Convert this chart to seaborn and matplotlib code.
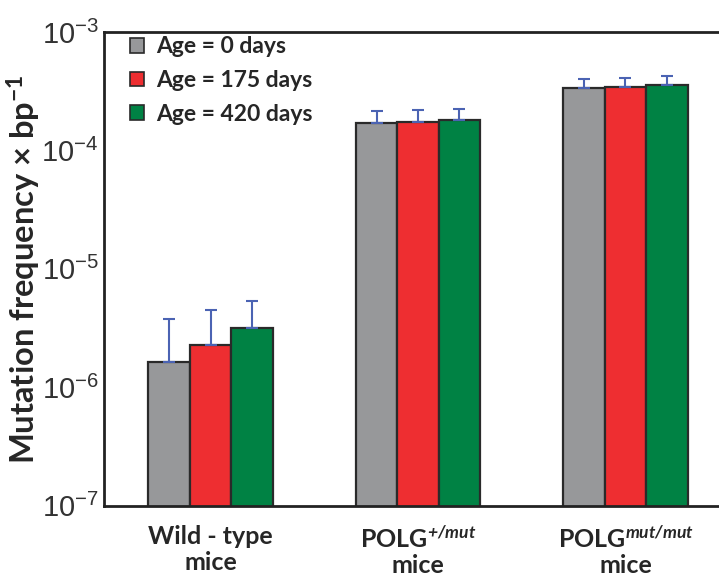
import matplotlib
matplotlib.use("Agg")
import matplotlib.pyplot as plt
import matplotlib.ticker as mticker
import seaborn as sns
import pandas as pd
import numpy as np

# ---- data ----
groups = ["Wild - type\nmice", "POLG$^{\\mathbfit{+/mut}}$\nmice", "POLG$^{\\mathbfit{mut/mut}}$\nmice"]
ages = ["Age = 0 days", "Age = 175 days", "Age = 420 days"]
age0 = [1.64e-6, 1.71e-4, 3.36e-4]
age175 = [2.29e-6, 1.76e-4, 3.47e-4]
age420 = [3.16e-6, 1.82e-4, 3.58e-4]
err_top0 = [3.8e-6, 2.15e-4, 4.00e-4]
err_top175 = [4.47e-6, 2.19e-4, 4.07e-4]
err_top420 = [5.35e-6, 2.26e-4, 4.24e-4]
colors = ["#97989a", "#ee2e31", "#008244"]

sns.set_style("white")
plt.rcParams["font.family"] = ["Lato", "DejaVu Sans"]
plt.rcParams["mathtext.fontset"] = "custom"
plt.rcParams["mathtext.rm"] = "Lato"
plt.rcParams["mathtext.it"] = "Lato:italic"
plt.rcParams["mathtext.bf"] = "Lato:bold"
plt.rcParams["mathtext.bfit"] = "Lato:bold:italic"

rows = []
for a, vals in zip(ages, [age0, age175, age420]):
    for g, v in zip(groups, vals):
        rows.append({"group": g, "age": a, "value": v})
df = pd.DataFrame(rows)
tops = {ages[0]: err_top0, ages[1]: err_top175, ages[2]: err_top420}

fig = plt.figure(figsize=(7.19, 5.81), dpi=100)
ax = fig.add_axes([104.3 / 719, 75.5 / 581, (731.7 - 104.3) / 719, (505.5 - 32.3) / 581])
ax.set_yscale("log")
sns.barplot(data=df, x="group", y="value", hue="age", palette=colors, width=0.6,
            edgecolor="#2a2a2a", linewidth=1.6, errorbar=None, ax=ax, saturation=1)

# error bars (upper only) at the centers of seaborn's bars
for cont, a in zip(ax.containers, ages):
    xs = [p.get_x() + p.get_width() / 2 for p in cont.patches]
    ys = [p.get_height() for p in cont.patches]
    up = [t - y for t, y in zip(tops[a], ys)]
    ax.errorbar(xs, ys, yerr=[np.zeros(len(ys)), up], fmt="none", ecolor="#4b63b3",
                elinewidth=1.5, capsize=4, capthick=1.5, zorder=1)

ax.set_ylim(1e-7, 1e-3)
ax.set_xlim(-0.512, 2.512)
ax.yaxis.set_major_locator(mticker.LogLocator(base=10, numticks=10))
ax.yaxis.set_minor_locator(mticker.LogLocator(base=10, subs=np.arange(2, 10), numticks=20))
ax.yaxis.set_minor_formatter(mticker.NullFormatter())
ax.tick_params(axis="y", which="major", direction="in", length=7, width=1.3,
               labelsize=21, colors="#222222", labelcolor="#333333", pad=4)
ax.tick_params(axis="y", which="minor", direction="in", length=4, width=1.1, colors="#222222")
ax.tick_params(axis="x", length=0, labelsize=18, pad=14)
for lab in ax.get_xticklabels():
    lab.set_fontweight("bold")
    lab.set_linespacing(1.15)
for lab in ax.get_yticklabels():
    lab.set_fontfamily(["Liberation Sans", "DejaVu Sans"])
    lab.set_fontweight("normal")

for s in ["left", "bottom", "top", "right"]:
    ax.spines[s].set_color("#222222")
    ax.spines[s].set_linewidth(2)

ax.set_xlabel("")
ax.set_ylabel("Mutation frequency × bp$^{\\mathbf{-1}}$", fontsize=23.5, fontweight="bold")
ax.yaxis.set_label_coords(-0.097, 0.5)

handles, labels = ax.get_legend_handles_labels()
leg = ax.legend(handles, labels, loc="upper left", bbox_to_anchor=(0.008, 1.035), frameon=False,
                handlelength=0.6, handleheight=0.6, handletextpad=0.55, labelspacing=0.55,
                borderaxespad=0.5, prop={"weight": "bold", "size": 16.5})
for h in leg.legend_handles:
    h.set_edgecolor("#2a2a2a")
    h.set_linewidth(1.2)

fig.savefig("out.png", dpi=100)
